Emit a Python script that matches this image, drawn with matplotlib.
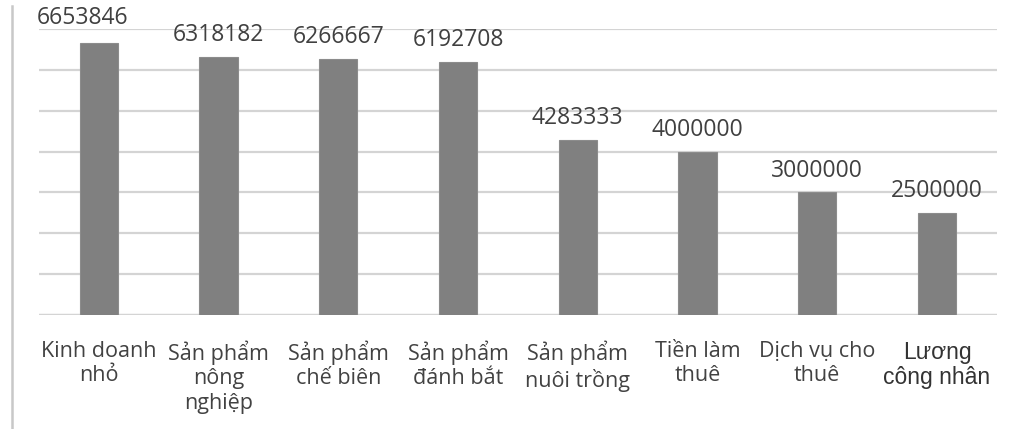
import matplotlib
matplotlib.use("Agg")
import matplotlib.pyplot as plt
from matplotlib import font_manager
from matplotlib.lines import Line2D

categories = [
    "Kinh doanh\nnhỏ",
    "Sản phẩm\nnông\nnghiệp",
    "Sản phẩm\nchế biên",
    "Sản phẩm\nđánh bắt",
    "Sản phẩm\nnuôi trồng",
    "Tiền làm\nthuê",
    "Dịch vụ cho\nthuê",
    "Lương\ncông nhân",
]
incomes = [6653846, 6318182, 6266667, 6192708, 4283333, 4000000, 3000000, 2500000]
y_ticks = [0, 1000000, 2000000, 3000000, 4000000, 5000000, 6000000, 7000000]

available = {f.name for f in font_manager.fontManager.ttflist}
label_font = "Open Sans" if "Open Sans" in available else "DejaVu Sans"

fig = plt.figure(figsize=(10.12, 4.29), dpi=100)
ax = fig.add_axes([0.0385, 0.2657, 0.9465, 0.6667])

x = list(range(len(categories)))
ax.bar(x, incomes, width=0.32, color="#808080", edgecolor="#8c8c8c",
       linewidth=0.8, zorder=3)

ax.set_xlim(-0.5, len(categories) - 0.5)
ax.set_ylim(y_ticks[0], y_ticks[-1])
ax.set_yticks(y_ticks)
ax.yaxis.grid(True, color="#d4d4d4", linewidth=1.6, zorder=0)
ax.tick_params(axis="y", left=False, labelleft=False)
for side in ("top", "right", "left", "bottom"):
    ax.spines[side].set_visible(False)
ax.axhline(0, color="#d4d4d4", linewidth=1.6, zorder=1)

# the first value label sits a little left of and above its bar
label_offsets = [(-12, 9.5)] + [(0, 7)] * (len(incomes) - 1)
for xi, v, off in zip(x, incomes, label_offsets):
    ax.annotate(str(v), (xi, v), xytext=off, textcoords="offset points",
                ha="center", va="bottom", fontsize=16.5, family=label_font,
                color="#404040")

ax.set_xticks(x)
ax.set_xticklabels(categories, fontsize=15.5, family=label_font,
                   color="#424242", linespacing=1.2, va="top")
ax.tick_params(axis="x", bottom=False, pad=15)
last = ax.get_xticklabels()[-1]
last.set_family("Liberation Sans")
last.set_fontsize(16.5)
last.set_color("#333333")
last.set_linespacing(1.1)

# thin frame line on the left edge
fig.add_artist(Line2D([0.012, 0.012], [0.0, 0.985], transform=fig.transFigure,
                      color="#c8c8c8", linewidth=1.8))

fig.savefig("out.png", dpi=100)
